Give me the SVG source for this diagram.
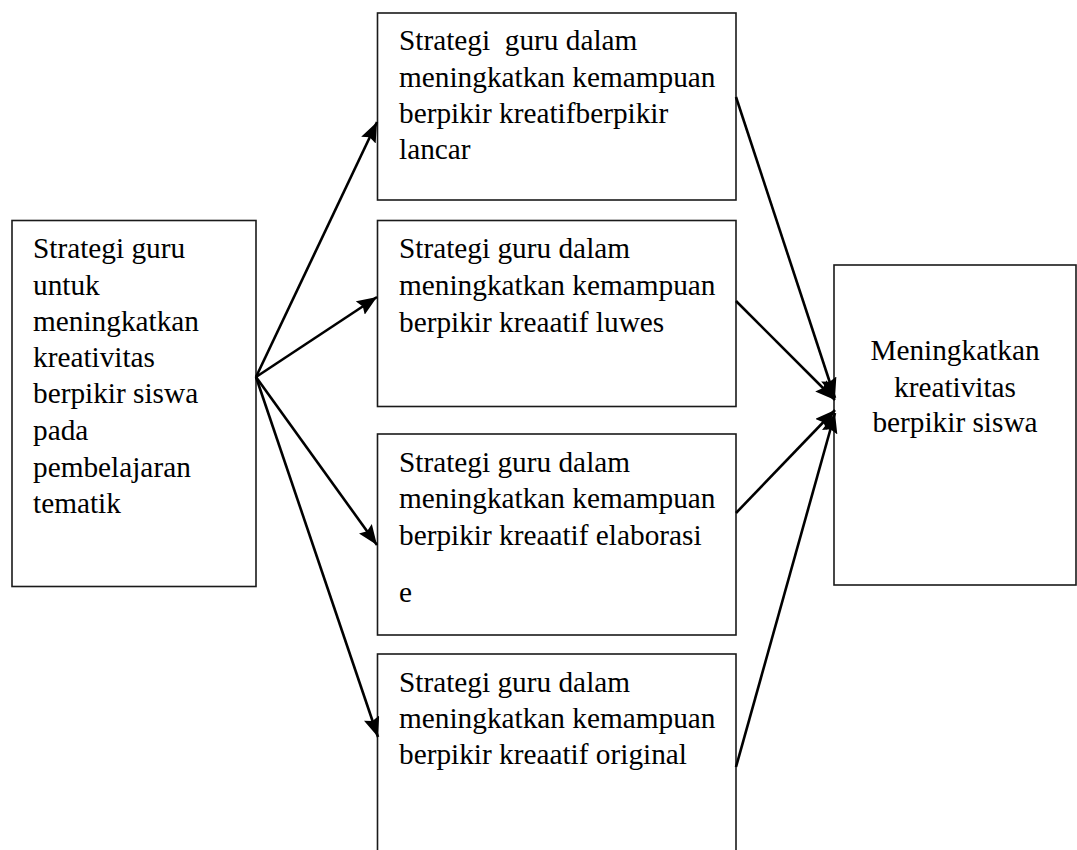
<svg xmlns="http://www.w3.org/2000/svg" width="1077" height="850" viewBox="0 0 1077 850">
<defs>
<style>
.box{fill:#fff;stroke:#1a1a1a;stroke-width:1.6}
.t{font-family:"Liberation Serif","Times New Roman",serif;font-size:29.3px;fill:#000}
.c{text-anchor:middle}
.conn line{stroke:#000;stroke-width:2.6;marker-end:url(#ah)}
</style>
<marker id="ah" markerUnits="userSpaceOnUse" markerWidth="22" markerHeight="16" refX="20" refY="8" orient="auto">
<path d="M0,0 L20,8 L0,16 L3,8 z" fill="#000"/>
</marker>
</defs>
<rect width="1077" height="850" fill="#fff"/>
<g id="src">
<rect class="box" x="12" y="220.5" width="244" height="366"/>
<text class="t" x="33" y="258">Strategi guru</text>
<text class="t" x="33" y="295">untuk</text>
<text class="t" x="33" y="331">meningkatkan</text>
<text class="t" x="33" y="367">kreativitas</text>
<text class="t" x="33" y="403">berpikir siswa</text>
<text class="t" x="33" y="440">pada</text>
<text class="t" x="33" y="477">pembelajaran</text>
<text class="t" x="33" y="513">tematik</text>
</g>
<g id="s1">
<rect class="box" x="377.5" y="13" width="358.5" height="187"/>
<text class="t" x="399" y="50" xml:space="preserve">Strategi  guru dalam</text>
<text class="t" x="399" y="87">meningkatkan kemampuan</text>
<text class="t" x="399" y="123">berpikir kreatifberpikir</text>
<text class="t" x="399" y="159">lancar</text>
</g>
<g id="s2">
<rect class="box" x="377.5" y="220.5" width="358.5" height="186"/>
<text class="t" x="399" y="258">Strategi guru dalam</text>
<text class="t" x="399" y="295">meningkatkan kemampuan</text>
<text class="t" x="399" y="332">berpikir kreaatif luwes</text>
</g>
<g id="s3">
<rect class="box" x="377.5" y="434" width="358.5" height="201"/>
<text class="t" x="399" y="472">Strategi guru dalam</text>
<text class="t" x="399" y="508">meningkatkan kemampuan</text>
<text class="t" x="399" y="545">berpikir kreaatif elaborasi</text>
<text class="t" x="399" y="602">e</text>
</g>
<g id="s4">
<rect class="box" x="377.5" y="654" width="358.5" height="210"/>
<text class="t" x="399" y="692">Strategi guru dalam</text>
<text class="t" x="399" y="728">meningkatkan kemampuan</text>
<text class="t" x="399" y="764">berpikir kreaatif original</text>
</g>
<g id="out">
<rect class="box" x="834" y="265" width="242" height="320"/>
<text class="t c" x="955" y="360">Meningkatkan</text>
<text class="t c" x="955" y="397">kreativitas</text>
<text class="t c" x="955" y="432">berpikir siswa</text>
</g>
<g class="conn" id="connectors">
<line x1="256" y1="377" x2="377" y2="122"/>
<line x1="256" y1="377" x2="377" y2="297"/>
<line x1="256" y1="377" x2="377" y2="545"/>
<line x1="256" y1="377" x2="378" y2="737"/>
<line x1="736" y1="97" x2="835" y2="398"/>
<line x1="736" y1="301" x2="835" y2="400"/>
<line x1="736" y1="513" x2="835" y2="410"/>
<line x1="736" y1="767" x2="835" y2="413"/>
</g>
</svg>
